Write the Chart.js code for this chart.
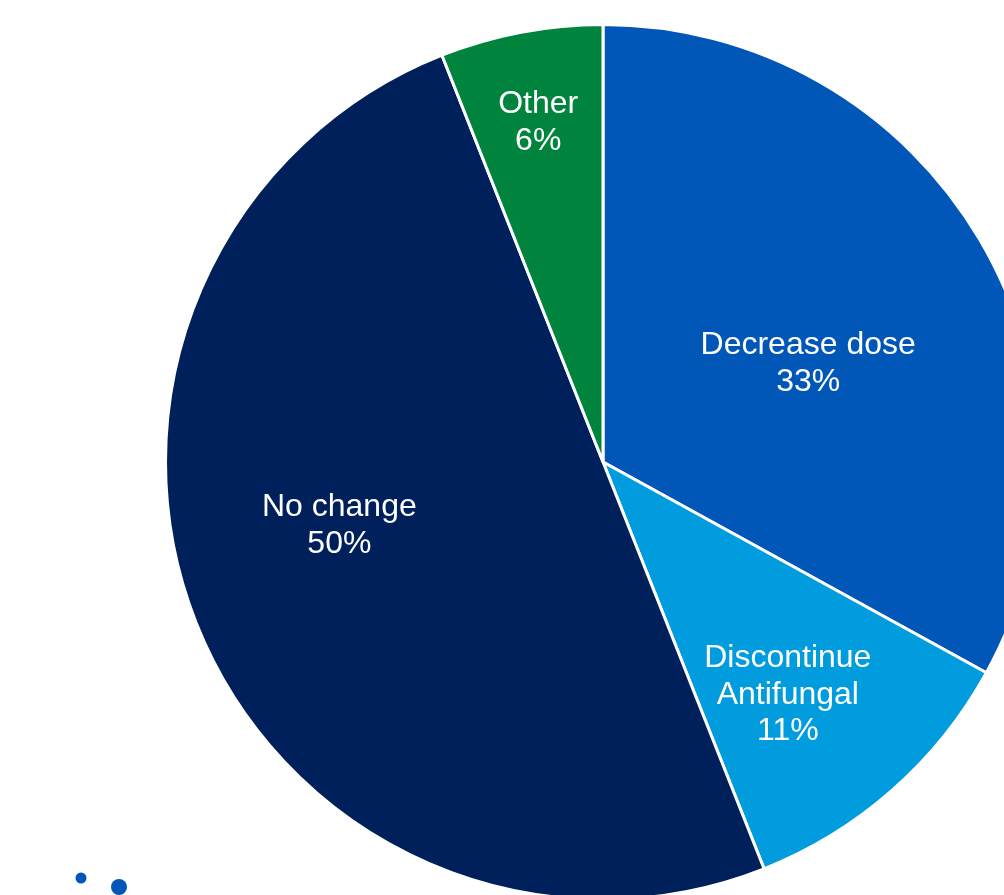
<!DOCTYPE html>
<html>
<head>
<meta charset="utf-8">
<script src="https://cdn.jsdelivr.net/npm/chart.js@4"></script>
<style>
  html, body { margin: 0; padding: 0; background: #fff; overflow: hidden; width: 1004px; height: 895px; }
  #wrap { position: absolute; left: 0; top: 0; width: 1206px; height: 924px; }
</style>
</head>
<body>
<div id="wrap"><canvas id="pieChart" width="1206" height="924"></canvas></div>
<script>
// actions taken
var labels = [['Decrease dose'], ['Discontinue', 'Antifungal'], ['No change'], ['Other']];
var values = [33, 11, 50, 6];
var colors = ['#0057B8', '#009CDE', '#00205B', '#00843D'];

// where each label sits inside its slice (fraction of radius, angle shift in degrees)
var labelRadius = [0.52, 0.68, 0.62, 0.79];
var labelShift = [5, 3, 8, 0];

// white labels inside the slices
var sliceLabels = {
    id: 'sliceLabels',
    afterDatasetsDraw: function(chart){
        var ctx = chart.ctx;
        var meta = chart.getDatasetMeta(0);
        ctx.save();
        ctx.fillStyle = '#fff';
        ctx.font = '32px "Liberation Sans", Arial, sans-serif';
        ctx.textAlign = 'center';
        ctx.textBaseline = 'middle';
        meta.data.forEach(function(arc, i){
            var mid = (arc.startAngle + arc.endAngle) / 2 + labelShift[i] * Math.PI / 180;
            var r = arc.outerRadius * labelRadius[i];
            var x = arc.x + Math.cos(mid) * r;
            var y = arc.y + Math.sin(mid) * r;
            var lines = labels[i].concat([values[i] + '%']);
            var lh = 36.5;
            var top = y - (lines.length - 1) * lh / 2;
            lines.forEach(function(t, k){
                ctx.fillText(t, x, top + k * lh);
            });
        });
        ctx.restore();
    }
};

// two small blue dots in the bottom left corner
var cornerDots = {
    id: 'cornerDots',
    afterDraw: function(chart){
        var ctx = chart.ctx;
        ctx.save();
        ctx.fillStyle = '#0057B8';
        ctx.beginPath(); ctx.arc(81, 878, 5.5, 0, Math.PI * 2); ctx.fill();
        ctx.beginPath(); ctx.arc(119, 887, 8, 0, Math.PI * 2); ctx.fill();
        ctx.restore();
    }
};

var pie = new Chart(document.getElementById('pieChart').getContext('2d'), {
    type: 'pie',
    data: {
        labels: labels.map(function(l){ return l.join(' '); }),
        datasets: [{
            data: values,
            backgroundColor: colors,
            borderColor: '#fff',
            borderWidth: 3
        }]
    },
    options: {
        responsive: false,
        animation: false,
        layout: { padding: 23 },
        plugins: {
            legend: { display: false },
            tooltip: { enabled: false }
        }
    },
    plugins: [sliceLabels, cornerDots]
});
</script>
</body>
</html>
